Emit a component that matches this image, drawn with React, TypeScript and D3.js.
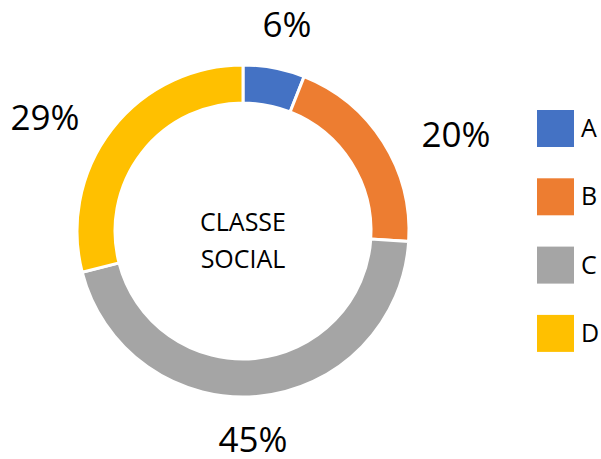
import React from "react";
import * as d3 from "d3";

const categories = ["A", "B", "C", "D"];
const values = [6, 20, 45, 29];
const colors = ["#4472C4", "#ED7D31", "#A5A5A5", "#FFC000"];
const labels = ["6%", "20%", "45%", "29%"];
const labelPos: [number, number][] = [
  [287, 37],
  [456, 147],
  [253, 452],
  [45, 130],
];

export default function App() {
  const W = 601,
    H = 459;
  const cx = 243,
    cy = 231;
  const outer = 166,
    inner = 128;
  const pie = d3.pie<number>().sort(null).value((d) => d);
  const arcs = pie(values);
  const arc = d3.arc<d3.PieArcDatum<number>>().innerRadius(inner).outerRadius(outer);
  const font = "'Open Sans', Calibri, sans-serif";
  return (
    <svg
      width={W}
      height={H}
      style={{ position: "absolute", left: 0, top: 0, background: "#fff" }}
    >
      <g transform={`translate(${cx},${cy})`}>
        {arcs.map((a, i) => (
          <path key={i} d={arc(a) || ""} fill={colors[i]} stroke="#fff" strokeWidth={3} />
        ))}
        <text x={0} y={0} textAnchor="middle" fontFamily={font} fontSize={25} fill="#000">
          CLASSE
        </text>
        <text x={0} y={37} textAnchor="middle" fontFamily={font} fontSize={25} fill="#000">
          SOCIAL
        </text>
      </g>
      {labels.map((l, i) => (
        <text
          key={i}
          x={labelPos[i][0]}
          y={labelPos[i][1]}
          textAnchor="middle"
          fontFamily={font}
          fontSize={35}
          fill="#000"
        >
          {l}
        </text>
      ))}
      {categories.map((c, i) => (
        <g key={c} transform={`translate(537,${110 + i * 68.3})`}>
          <rect width={37} height={37} fill={colors[i]} />
          <text x={44} y={27} fontFamily={font} fontSize={25} fill="#000">
            {c}
          </text>
        </g>
      ))}
    </svg>
  );
}
